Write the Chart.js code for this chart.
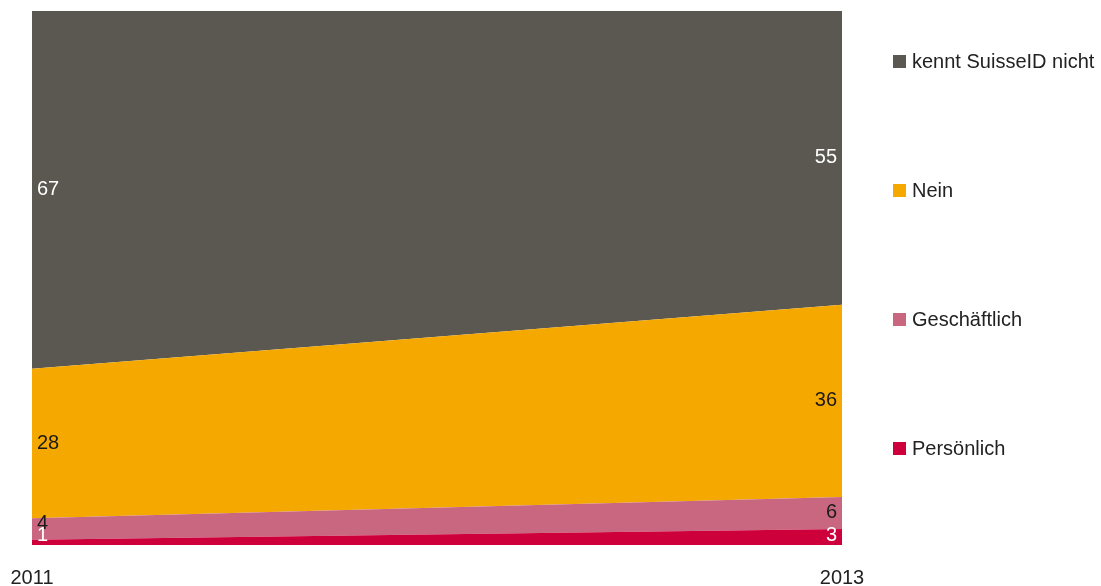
<!DOCTYPE html>
<html>
<head>
<meta charset="utf-8">
<script src="https://cdn.jsdelivr.net/npm/chart.js@4"></script>
<style>
  html, body { margin: 0; padding: 0; background: #fff; }
  #wrap { position: relative; width: 1101px; height: 586px; }
  #legend { position: absolute; left: 893px; top: 0; font-family: "Liberation Sans", Arial, sans-serif; font-size: 20px; color: #222; }
  .item { position: absolute; left: 0; white-space: nowrap; display: flex; align-items: center; }
  .box { width: 13px; height: 13px; margin-right: 6px; }
</style>
</head>
<body>
<div id="wrap">
  <canvas id="chart" width="1101" height="586"></canvas>
  <div id="legend"></div>
</div>
<script>
// Daten (Anteile in %)
const years = ['2011', '2013'];
const persoenlich = [1, 3];
const geschaeftlich = [4, 6];
const nein = [28, 36];
const kenntNicht = [67, 55];

const seriesNames = ['Persönlich', 'Geschäftlich', 'Nein', 'kennt SuisseID nicht'];
const seriesColors = ['#ce003c', '#ca6780', '#f5a800', '#5a5850'];
const labelColors = ['#ffffff', '#1a1a1a', '#1a1a1a', '#ffffff'];

document.addEventListener('DOMContentLoaded', function () {
    const values = [persoenlich, geschaeftlich, nein, kenntNicht];

    // Werte direkt an den Rändern der Flächen beschriften
    const edgeLabels = {
        id: 'edgeLabels',
        afterDatasetsDraw(chart) {
            const ctx = chart.ctx;
            const yScale = chart.scales.y;
            ctx.save();
            ctx.font = '20px "Liberation Sans", Arial, sans-serif';
            ctx.textBaseline = 'middle';
            chart.data.datasets.forEach((ds, di) => {
                const meta = chart.getDatasetMeta(di);
                meta.data.forEach((pt, i) => {
                    const bottom = di === 0 ? yScale.bottom : chart.getDatasetMeta(di - 1).data[i].y;
                    let y = (pt.y + bottom) / 2;
                    if (y > yScale.bottom - 10) y = yScale.bottom - 10;
                    if (di === 1 && i === 0) y -= 5;
                    ctx.fillStyle = labelColors[di];
                    if (i === 0) {
                        ctx.textAlign = 'left';
                        ctx.fillText(ds.data[i], pt.x + 5, y);
                    } else {
                        ctx.textAlign = 'right';
                        ctx.fillText(ds.data[i], pt.x - 5, y);
                    }
                });
            });
            ctx.restore();
        }
    };

    new Chart(document.getElementById('chart').getContext('2d'), {
        type: 'line',
        data: {
            labels: years,
            datasets: values.map((v, i) => ({
                label: seriesNames[i],
                data: v,
                backgroundColor: seriesColors[i],
                borderColor: seriesColors[i],
                borderWidth: 0,
                pointRadius: 0,
                tension: 0,
                fill: i === 0 ? 'origin' : '-1'
            }))
        },
        options: {
            responsive: false,
            animation: false,
            layout: { padding: { left: 32, right: 259, top: 11, bottom: 0 } },
            plugins: { legend: { display: false }, tooltip: { enabled: false } },
            scales: {
                x: {
                    offset: false,
                    grid: { display: false },
                    border: { display: false },
                    ticks: { color: '#222', padding: 13, maxRotation: 0, font: { size: 20, family: '"Liberation Sans", Arial, sans-serif' } },
                    afterFit(scale) {
                        scale.height = 41;
                        scale.paddingLeft = 0;
                        scale.paddingRight = 0;
                    }
                },
                y: {
                    display: false,
                    stacked: true,
                    min: 0,
                    max: 100
                }
            }
        },
        plugins: [edgeLabels]
    });

    // Legende rechts, oberste Fläche zuerst
    const legend = document.getElementById('legend');
    const tops = [61, 190, 319, 448];
    for (let k = 0; k < 4; k++) {
        const di = 3 - k;
        const el = document.createElement('div');
        el.className = 'item';
        el.style.top = (tops[k] - 12) + 'px';
        el.style.height = '24px';
        el.innerHTML = '<div class="box" style="background:' + seriesColors[di] + '"></div><span>' + seriesNames[di] + '</span>';
        legend.appendChild(el);
    }
});
</script>
</body>
</html>
